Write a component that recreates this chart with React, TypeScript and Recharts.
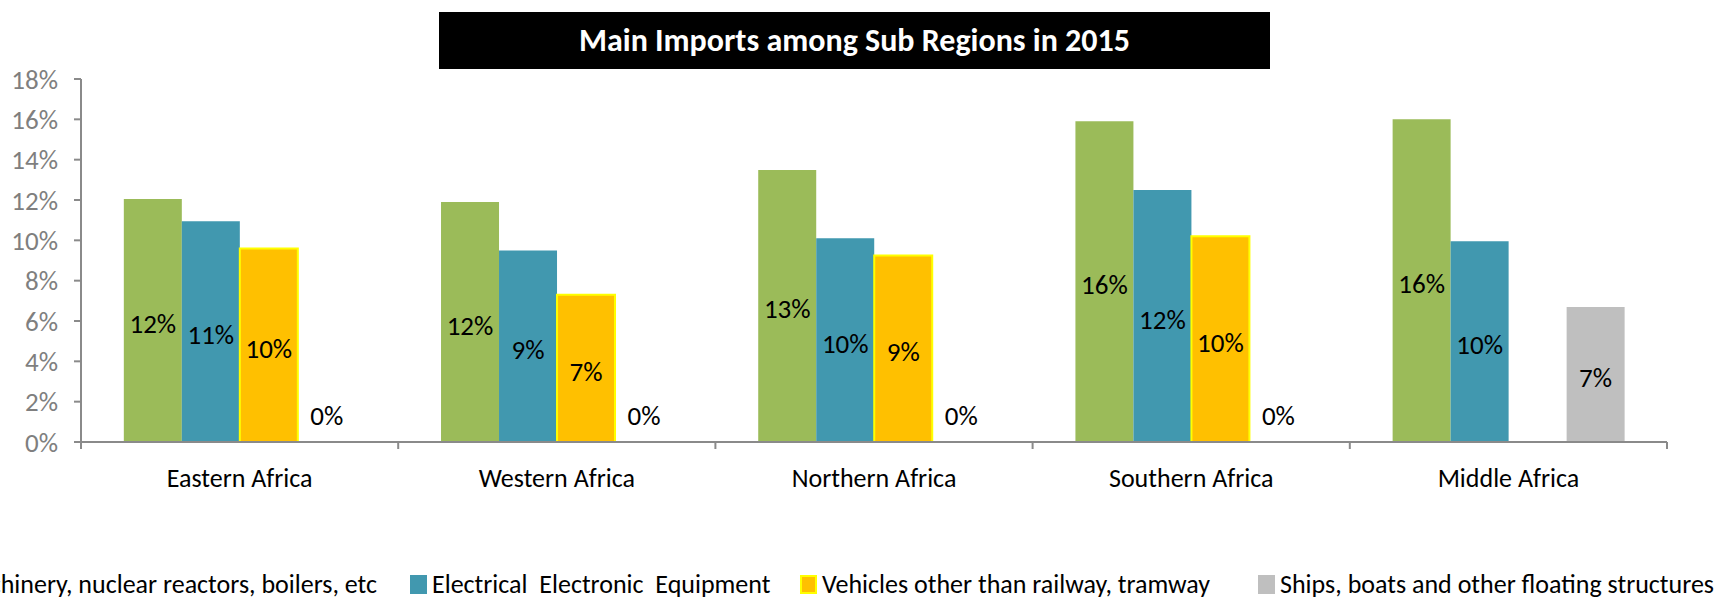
import React from 'react';
import { BarChart, Bar, XAxis, YAxis, LabelList } from 'recharts';

const regions = ['Eastern Africa', 'Western Africa', 'Northern Africa', 'Southern Africa', 'Middle Africa'];

// shares of imports, in %
const machinery = [12.05, 11.9, 13.49, 15.9, 16.0];
const electrical = [10.95, 9.49, 10.1, 12.49, 9.95];
const vehicles: (number | null)[] = [9.6, 7.3, 9.25, 10.2, null];
const ships = [0, 0, 0, 0, 6.7];

const yTicks = [0, 2, 4, 6, 8, 10, 12, 14, 16, 18];

const series = [
  { key: 'machinery', name: 'Machinery, nuclear reactors, boilers, etc', fill: '#9BBB59', stroke: 'none' },
  { key: 'electrical', name: 'Electrical  Electronic  Equipment', fill: '#4198AF', stroke: 'none' },
  { key: 'vehicles', name: 'Vehicles other than railway, tramway', fill: '#FFC000', stroke: '#FFFF00' },
  { key: 'ships', name: 'Ships, boats and other floating structures', fill: '#BFBFBF', stroke: 'none' },
];

const data = regions.map((region, i) => ({
  region,
  machinery: machinery[i],
  electrical: electrical[i],
  vehicles: vehicles[i],
  ships: ships[i],
}));

const W = 1721;
const H = 598;
const PLOT_LEFT = 81;
const PLOT_RIGHT = 1667;
const BAND = (PLOT_RIGHT - PLOT_LEFT) / regions.length;
const FONT = 'Carlito, Calibri, Lato, "Open Sans", sans-serif';
const AXIS = '#8a8a8a';

const CategoryTick = (props: any) => {
  const { x, y, payload, index } = props;
  const axisY = y - 10;
  return (
    <g>
      <line x1={x - BAND / 2} x2={x - BAND / 2} y1={axisY} y2={axisY + 7} stroke={AXIS} strokeWidth={2} />
      {index === regions.length - 1 && (
        <line x1={x + BAND / 2} x2={x + BAND / 2} y1={axisY} y2={axisY + 7} stroke={AXIS} strokeWidth={2} />
      )}
      <text x={x} y={axisY + 45} textAnchor="middle" fontSize={26} fontFamily={FONT} fill="#000">
        {payload.value}
      </text>
    </g>
  );
};

const renderLabel = (props: any) => {
  const { x, y, width, height, value } = props;
  if (value === null || value === undefined) return null;
  const cx = Number(x) + Number(width) / 2;
  const cy = Number(value) < 0.5 ? Number(y) + Number(height) - 27 : Number(y) + Number(height) / 2 + 3;
  return (
    <text x={cx} y={cy} textAnchor="middle" dominantBaseline="central" fontSize={27} fontFamily={FONT} fill="#000">
      {Math.round(Number(value))}%
    </text>
  );
};

// legend item anchors (first one runs off the left edge)
const legendPos: React.CSSProperties[] = [
  { right: W - 377 },
  { left: 410 },
  { left: 800 },
  { left: 1258 },
];

export default function App() {
  return (
    <div style={{ position: 'relative', width: W, height: H, overflow: 'hidden', background: '#fff', fontFamily: FONT }}>
      <style>{'body{margin:0}'}</style>
      <div
        style={{
          position: 'absolute',
          left: 439,
          top: 12,
          width: 831,
          height: 57,
          background: '#000',
          color: '#fff',
          fontWeight: 700,
          fontSize: 32,
          display: 'flex',
          alignItems: 'center',
          justifyContent: 'center',
        }}
      >
        Main Imports among Sub Regions in 2015
      </div>

      <BarChart
        width={W}
        height={H}
        data={data}
        margin={{ top: 79, right: W - PLOT_RIGHT, bottom: 96, left: 0 }}
        barCategoryGap="13.5%"
        barGap={0}
      >
        <XAxis
          dataKey="region"
          height={60}
          axisLine={{ stroke: AXIS, strokeWidth: 2 }}
          tickLine={false}
          tickSize={0}
          tickMargin={10}
          tick={<CategoryTick />}
          interval={0}
        />
        <YAxis
          width={PLOT_LEFT}
          domain={[0, 18]}
          ticks={yTicks}
          tickFormatter={(v: number) => `${v}%`}
          axisLine={{ stroke: AXIS, strokeWidth: 2 }}
          tickLine={{ stroke: AXIS, strokeWidth: 2 }}
          tickSize={7}
          tickMargin={16}
          tick={{ fill: '#7f7f7f', fontSize: 27, fontFamily: FONT }}
          interval={0}
        />
        {series.map((s) => (
          <Bar
            key={s.key}
            dataKey={s.key}
            name={s.name}
            fill={s.fill}
            stroke={s.stroke}
            strokeWidth={s.stroke === 'none' ? 0 : 2}
            minPointSize={s.key === 'ships' ? 0.05 : 0}
            isAnimationActive={false}
          >
            <LabelList dataKey={s.key} content={renderLabel} />
          </Bar>
        ))}
      </BarChart>

      {series.map((s, i) => (
        <div
          key={s.key}
          style={{
            position: 'absolute',
            top: 571,
            lineHeight: '26px',
            display: 'flex',
            alignItems: 'center',
            whiteSpace: 'pre',
            fontSize: 26,
            color: '#000',
            ...legendPos[i],
          }}
        >
          <span
            style={{
              display: 'inline-block',
              width: 17,
              height: 19,
              background: s.fill,
              border: s.stroke === 'none' ? 'none' : `2px solid ${s.stroke}`,
              boxSizing: 'border-box',
              marginRight: 5,
              flexShrink: 0,
            }}
          />
          {s.name}
        </div>
      ))}
    </div>
  );
}
